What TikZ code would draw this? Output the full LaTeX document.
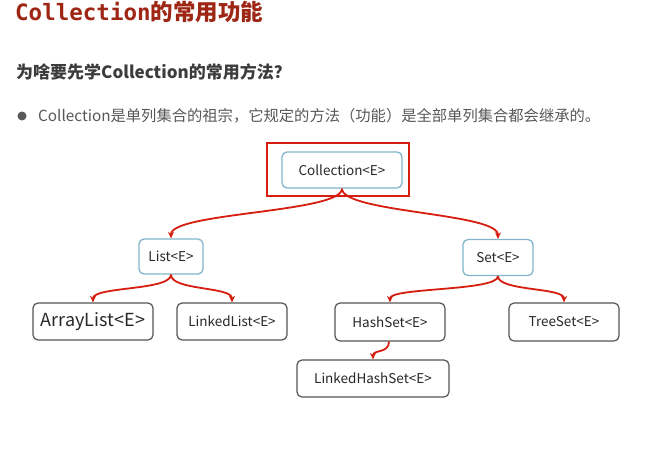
\documentclass[tikz,border=0pt]{standalone}
\usepackage{fontspec}
\setmainfont{Noto Sans CJK SC}
\newfontfamily\titlemono{DejaVu Sans Mono}
\usetikzlibrary{arrows.meta}
\definecolor{titlered}{RGB}{158,38,20}
\definecolor{linkred}{RGB}{214,30,16}
\definecolor{boxblue}{RGB}{130,180,204}
\definecolor{boxgray}{RGB}{85,85,85}
\definecolor{subgray}{RGB}{60,60,60}
\definecolor{txtgray}{RGB}{88,88,88}
\definecolor{nodetxt}{RGB}{40,40,40}
\tikzset{
  bluebox/.style={draw=boxblue, line width=1.3pt, rounded corners=5pt, fill=white, text=nodetxt, font=\fontsize{13.5}{15}\selectfont, inner sep=0pt},
  graybox/.style={draw=boxgray, line width=1.2pt, rounded corners=5pt, fill=white, text=nodetxt, font=\fontsize{13.5}{15}\selectfont, inner sep=0pt},
  link/.style={draw=linkred, line width=1.8pt, -{Stealth[length=6.5pt,width=6pt]}},
}
\begin{document}
\begin{tikzpicture}[x=1pt,y=-1pt]
\useasboundingbox[fill=white] (0,0) rectangle (671,448);
% title
\node[anchor=base west, inner sep=0pt, text=titlered, font=\fontsize{22.5}{26}\selectfont\bfseries] (title) at (15,20) {{\titlemono\bfseries Collection}的常用功能};
\node[anchor=base west, inner sep=0pt, text=subgray, font=\fontsize{17}{20}\selectfont\bfseries] (sub) at (16,78) {为啥要先学Collection的常用方法？};
\fill[txtgray] (22,116) circle (4.5pt);
\node[anchor=base west, inner sep=0pt, text=txtgray, font=\fontsize{15.3}{18}\selectfont] (bullet) at (38,121.5) {Collection是单列集合的祖宗，它规定的方法（功能）是全部单列集合都会继承的。};
% red frame
\node[draw=linkred, line width=2.2pt, minimum width=142pt, minimum height=53pt, inner sep=0pt] (frame) at (338,169.5) {};
% nodes
\node[bluebox, minimum width=120pt, minimum height=36pt] (coll) at (342,170) {Collection<E>};
\node[bluebox, minimum width=64pt, minimum height=35pt] (list) at (171,256.5) {List<E>};
\node[bluebox, minimum width=70pt, minimum height=36pt] (set) at (498,257.5) {Set<E>};
\node[graybox, minimum width=120pt, minimum height=37pt, font=\fontsize{18}{20}\selectfont] (alist) at (93,321.5) {ArrayList<E>};
\node[graybox, minimum width=110pt, minimum height=37pt] (llist) at (232,321.5) {LinkedList<E>};
\node[graybox, minimum width=110pt, minimum height=38pt] (hset) at (390,322) {HashSet<E>};
\node[graybox, minimum width=110pt, minimum height=38pt] (tset) at (564,322) {TreeSet<E>};
\node[graybox, minimum width=152pt, minimum height=37pt] (lhset) at (373,378.5) {LinkedHashSet<E>};
% links
\draw[link] (coll.south) .. controls +(0,24) and +(0,-26) .. (list.north);
\draw[link] (coll.south) .. controls +(0,24) and +(0,-26) .. (set.north);
\draw[link] (list.south) .. controls +(0,16) and +(0,-16) .. (alist.north);
\draw[link] (list.south) .. controls +(0,16) and +(0,-16) .. (llist.north);
\draw[link] (set.south) .. controls +(0,15) and +(0,-15) .. (hset.north);
\draw[link] (set.south) .. controls +(0,15) and +(0,-15) .. (tset.north);
\draw[link] ([xshift=-1pt]hset.south) .. controls +(0,12) and +(0,-10) .. (lhset.north);
\end{tikzpicture}
\end{document}
